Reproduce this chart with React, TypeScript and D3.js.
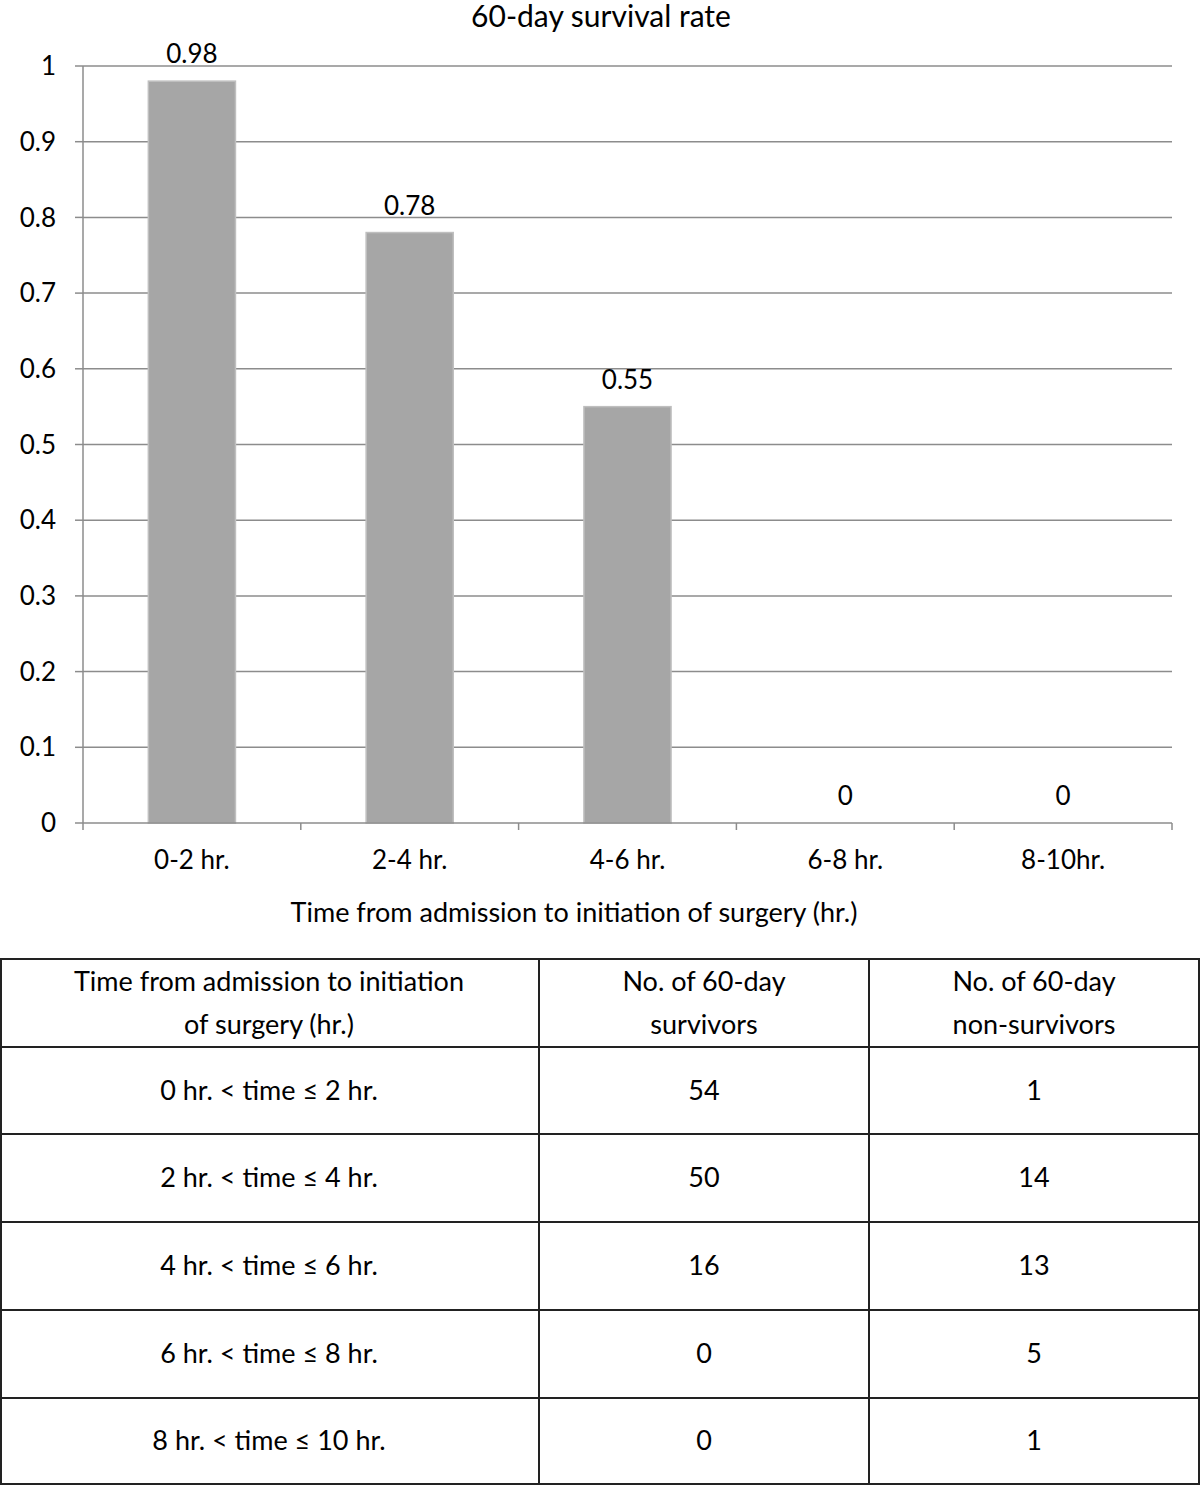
import React from "react";
import * as d3 from "d3";

const categories = ["0-2 hr.", "2-4 hr.", "4-6 hr.", "6-8 hr.", "8-10hr."];
const survivalRate = [0.98, 0.78, 0.55, 0, 0];
const yTicks = [0, 0.1, 0.2, 0.3, 0.4, 0.5, 0.6, 0.7, 0.8, 0.9, 1];

const tableHeader = [
  ["Time from admission to initiation", "of surgery (hr.)"],
  ["No. of 60-day", "survivors"],
  ["No. of 60-day", "non-survivors"],
];
const intervalLabels = [
  "0 hr. < time ≤ 2 hr.",
  "2 hr. < time ≤ 4 hr.",
  "4 hr. < time ≤ 6 hr.",
  "6 hr. < time ≤ 8 hr.",
  "8 hr. < time ≤ 10 hr.",
];
const survivors = [54, 50, 16, 0, 0];
const nonSurvivors = [1, 14, 13, 5, 1];

const FONT = "Lato, 'Open Sans', sans-serif";

export default function App() {
  const W = 1200, H = 1486;
  const left = 83, right = 1172, top = 66, bottom = 823;
  const x = d3.scaleBand<string>().domain(categories).range([left, right]).paddingInner(0.6).paddingOuter(0.3);
  const band = d3.scaleBand<string>().domain(categories).range([left, right]);
  const y = d3.scaleLinear().domain([0, 1]).range([bottom, top]);

  const colX = [0, 539, 869, 1199];
  const rowY = [959, 1047, 1134, 1222, 1310, 1398, 1484];
  const rows = intervalLabels.map((l, i) => [l, String(survivors[i]), String(nonSurvivors[i])]);
  const fs = 26;
  const tfs = 27;

  return (
    <svg width={W} height={H} style={{ position: "absolute", left: 0, top: 0, background: "#fff" }} fontFamily={FONT}>
      <rect width={W} height={H} fill="#fff" />
      <text x={601} y={27} textAnchor="middle" fontSize={30} fill="#000">60-day survival rate</text>
      {yTicks.map((t) => (
        <g key={t}>
          {t > 0 && <line x1={left} x2={right} y1={y(t)} y2={y(t)} stroke="#8c8c8c" strokeWidth={1.5} />}
          <line x1={left - 8} x2={left} y1={y(t)} y2={y(t)} stroke="#8c8c8c" strokeWidth={1.5} />
          <text x={56} y={y(t)} dy="0.35em" textAnchor="end" fontSize={fs} fill="#000">{t}</text>
        </g>
      ))}
      {survivalRate.map((v, i) => (
        v > 0 ? (
          <rect key={i} x={x(categories[i])!} width={x.bandwidth()} y={y(v)} height={y(0) - y(v)}
            fill="#a6a6a6" stroke="#bfbfbf" strokeWidth={1.5} />
        ) : null
      ))}
      <line x1={left} x2={left} y1={top} y2={bottom + 7} stroke="#8c8c8c" strokeWidth={1.5} />
      <line x1={left} x2={right} y1={bottom} y2={bottom} stroke="#8c8c8c" strokeWidth={1.5} />
      {categories.map((c) => (
        <line key={c} x1={band(c)! + band.bandwidth()} x2={band(c)! + band.bandwidth()} y1={bottom} y2={bottom + 7}
          stroke="#8c8c8c" strokeWidth={1.5} />
      ))}
      {survivalRate.map((v, i) => (
        <text key={i} x={band(categories[i])! + band.bandwidth() / 2} y={y(v) - 27} dy="0.35em" textAnchor="middle" fontSize={fs} fill="#000">{v}</text>
      ))}
      {categories.map((c) => (
        <text key={c} x={band(c)! + band.bandwidth() / 2} y={860} dy="0.35em" textAnchor="middle" fontSize={fs} fill="#000">{c}</text>
      ))}
      <text x={574} y={913} dy="0.35em" textAnchor="middle" fontSize={tfs} fill="#000">Time from admission to initiation of surgery (hr.)</text>

      {rowY.map((ry) => (
        <line key={ry} x1={0} x2={1200} y1={ry} y2={ry} stroke="#222" strokeWidth={2} />
      ))}
      {colX.map((cx) => (
        <line key={cx} x1={cx === 0 ? 1 : cx} x2={cx === 0 ? 1 : cx} y1={959} y2={1484} stroke="#222" strokeWidth={2} />
      ))}
      {tableHeader.map((lines, ci) => {
        const cx = ci === 0 ? 269 : ci === 1 ? 704 : 1034;
        return (
          <text key={ci} textAnchor="middle" fontSize={tfs} fill="#000">
            <tspan x={cx} y={982} dy="0.35em">{lines[0]}</tspan>
            <tspan x={cx} y={1025} dy="0.35em">{lines[1]}</tspan>
          </text>
        );
      })}
      {rows.map((r, ri) => r.map((cell, ci) => (
        <text key={`${ri}-${ci}`} x={ci === 0 ? 269 : ci === 1 ? 704 : 1034} y={(rowY[ri + 1] + rowY[ri + 2]) / 2} dy="0.35em"
          textAnchor="middle" fontSize={tfs} fill="#000">{cell}</text>
      )))}
    </svg>
  );
}
